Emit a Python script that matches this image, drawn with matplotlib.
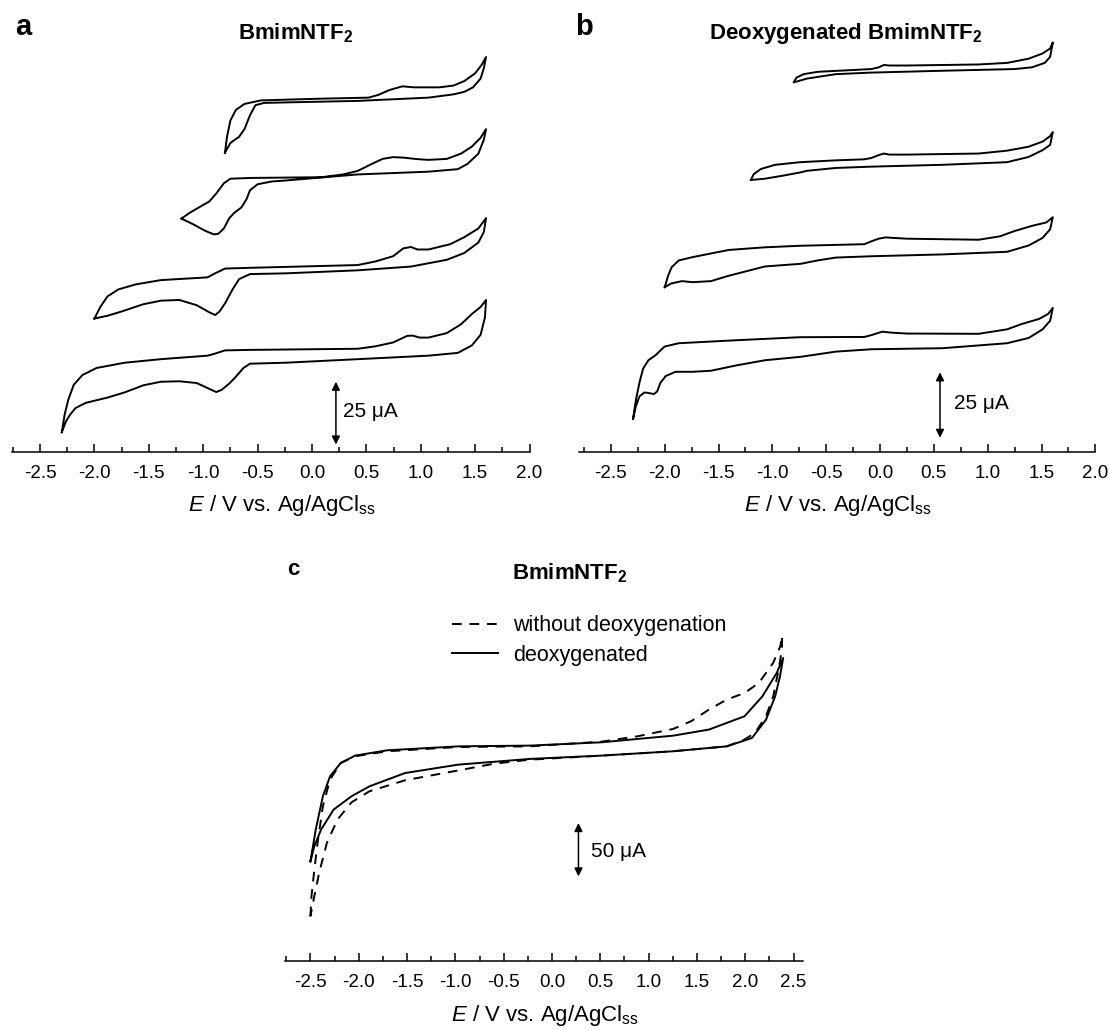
import matplotlib
matplotlib.use("Agg")
import matplotlib.pyplot as plt
from matplotlib.ticker import MultipleLocator, FormatStrFormatter

plt.rcParams["font.family"] = ["Liberation Sans", "DejaVu Sans"]
plt.rcParams["mathtext.fontset"] = "custom"
plt.rcParams["mathtext.rm"] = "Liberation Sans"
plt.rcParams["mathtext.it"] = "Liberation Sans:italic"
plt.rcParams["mathtext.bf"] = "Liberation Sans:bold"
plt.rcParams["axes.unicode_minus"] = False

# ---- panel a: BmimNTF2, four switching potentials (E in V, stacked current in uA)
a1_E = [-0.80, -0.78, -0.75, -0.70, -0.62, -0.47, 0.09, 0.52, 0.61, 0.71, 0.83, 0.94, 1.17, 1.30, 1.40, 1.50, 1.56, 1.60,
        1.58, 1.55, 1.48, 1.40, 1.30, 1.07, 0.42, -0.24, -0.44, -0.52, -0.57, -0.62, -0.67, -0.72, -0.75, -0.80]
a1_I = [119.4, 126.0, 132.2, 136.4, 138.8, 140.2, 140.9, 141.3, 142.4, 144.3, 145.8, 145.4, 145.4, 146.1, 147.9, 151.0, 154.4, 157.5,
        153.1, 148.9, 145.4, 143.6, 142.6, 141.3, 140.0, 139.4, 139.2, 138.3, 134.3, 128.8, 125.7, 124.2, 123.2, 119.4]

a2_E = [-1.20, -1.125, -1.03, -0.945, -0.88, -0.81, -0.75, -0.57, 0.09, 0.285, 0.42, 0.55, 0.65, 0.745, 0.84, 0.97, 1.07, 1.24,
        1.37, 1.47, 1.55, 1.60, 1.58, 1.53, 1.43, 1.34, 1.07, 0.42, -0.24, -0.37, -0.50, -0.57, -0.60, -0.65, -0.715, -0.76,
        -0.81, -0.86, -0.90, -0.98, -1.09, -1.20]
a2_I = [93.1, 95.4, 97.8, 99.9, 103.1, 107.2, 109.0, 109.3, 109.6, 110.7, 112.1, 114.9, 116.9, 117.6, 117.4, 116.8, 116.5, 116.9,
        119.0, 121.8, 125.3, 128.75, 124.6, 119.0, 114.9, 112.8, 111.8, 110.7, 108.3, 107.9, 106.8, 104.4, 101.0, 97.5, 95.4, 93.3,
        89.2, 87.1, 86.8, 88.2, 90.8, 93.1]

a3_E = [-2.00, -1.946, -1.88, -1.78, -1.62, -1.39, -0.96, -0.90, -0.80, -0.57, 0.42, 0.58, 0.745, 0.84, 0.91, 0.97, 1.07, 1.27,
        1.40, 1.53, 1.60, 1.58, 1.53, 1.40, 1.24, 0.91, 0.42, -0.24, -0.57, -0.67, -0.73, -0.80, -0.85, -0.89, -0.945, -1.06,
        -1.22, -1.39, -1.55, -1.75, -1.88, -2.00]
a3_I = [53.3, 57.9, 62.1, 64.9, 66.9, 68.6, 69.7, 71.1, 73.2, 73.5, 74.6, 76.0, 78.1, 81.25, 81.8, 80.8, 80.8, 82.9,
        85.7, 89.2, 93.3, 87.8, 83.6, 79.4, 76.7, 74.0, 72.5, 71.3, 71.0, 69.0, 64.9, 59.3, 56.1, 54.7, 55.8, 58.6,
        60.7, 60.4, 59.0, 56.1, 54.4, 53.3]

a4_E = [-2.30, -2.274, -2.24, -2.19, -2.11, -1.98, -1.72, -1.39, -0.96, -0.90, -0.80, -0.57, 0.42, 0.58, 0.745, 0.876, 0.925,
        0.99, 1.07, 1.24, 1.37, 1.47, 1.55, 1.60, 1.59, 1.55, 1.47, 1.34, 1.07, 0.42, -0.24, -0.57, -0.63, -0.70, -0.76, -0.83,
        -0.88, -0.945, -1.06, -1.22, -1.39, -1.55, -1.72, -1.88, -2.08, -2.175, -2.22, -2.26, -2.30]
a4_I = [8.0, 15.0, 21.0, 26.9, 30.8, 33.6, 35.7, 37.1, 38.5, 39.2, 40.6, 40.8, 41.25, 42.2, 43.75, 46.4, 46.5,
        45.7, 45.7, 47.5, 51.0, 55.1, 57.9, 60.7, 53.75, 46.8, 42.6, 39.6, 38.5, 37.1, 35.7, 35.3, 33.6, 30.1, 27.4, 24.9,
        24.0, 25.3, 27.6, 28.3, 28.1, 26.7, 23.9, 21.8, 19.7, 17.6, 15.2, 12.5, 8.0]

# ---- panel b: deoxygenated BmimNTF2
b1_E = [-0.80, -0.776, -0.71, -0.577, -0.245, -0.08, -0.013, 0.036, 0.086, 0.25, 0.915, 1.18, 1.38, 1.51, 1.58, 1.605,
        1.58, 1.53, 1.41, 1.25, 0.58, -0.08, -0.41, -0.68, -0.78, -0.80]
b1_I = [141.05, 142.8, 144.1, 145.0, 145.7, 146.05, 146.7, 147.6, 147.4, 147.4, 147.8, 148.4, 150.0, 152.0, 153.9, 156.2,
        150.7, 148.4, 146.7, 146.05, 145.4, 144.7, 144.1, 142.4, 141.2, 141.05]

b2_E = [-1.20, -1.174, -1.107, -0.975, -0.743, -0.411, -0.146, -0.08, -0.013, 0.036, 0.086, 0.252, 0.915, 1.18, 1.379, 1.512,
        1.578, 1.605, 1.58, 1.51, 1.38, 1.18, 0.58, -0.08, -0.41, -0.68, -0.74, -0.91, -1.07, -1.20]
b2_I = [103.7, 105.9, 107.9, 109.5, 110.5, 111.2, 111.6, 112.1, 113.2, 113.8, 113.4, 113.4, 113.8, 114.9, 116.4, 118.4,
        120.4, 122.0, 117.1, 115.1, 112.5, 110.5, 109.5, 108.8, 108.3, 107.2, 106.6, 105.3, 104.2, 103.7]

b3_E = [-2.00, -1.969, -1.936, -1.87, -1.737, -1.406, -1.074, -0.743, -0.146, -0.08, -0.013, 0.053, 0.119, 0.252, 0.915,
        1.114, 1.247, 1.412, 1.545, 1.605, 1.58, 1.51, 1.38, 1.18, 0.58, -0.08, -0.41, -0.58, -0.74, -1.07, -1.41, -1.57,
        -1.74, -1.84, -1.94, -2.00]
b3_I = [62.8, 67.1, 70.4, 73.0, 74.3, 77.0, 78.0, 78.6, 79.2, 80.3, 81.3, 81.8, 81.6, 81.3, 80.9,
        82.2, 84.2, 86.2, 87.5, 89.5, 84.9, 81.6, 78.7, 76.3, 75.3, 74.6, 74.1, 73.0, 71.7, 70.7, 67.1, 65.1,
        64.7, 65.1, 64.2, 62.8]

b4_E = [-2.294, -2.268, -2.235, -2.202, -2.152, -2.086, -2.003, -1.87, -1.406, -0.743, -0.146, -0.08, 0.02, 0.119, 0.252,
        0.915, 1.18, 1.313, 1.479, 1.562, 1.605, 1.58, 1.51, 1.38, 1.18, 0.58, -0.08, -0.41, -0.74, -1.07, -1.34, -1.57,
        -1.74, -1.90, -1.99, -2.04, -2.07, -2.10, -2.15, -2.19, -2.235, -2.27, -2.294]
b4_I = [12.5, 19.7, 26.3, 31.6, 34.9, 36.8, 40.1, 41.4, 42.4, 43.7, 43.8, 44.5, 45.8, 45.4, 45.1,
        45.0, 46.7, 48.7, 50.7, 52.6, 54.9, 50.0, 46.7, 43.4, 41.4, 39.5, 39.1, 38.2, 36.2, 34.9, 32.9, 30.9,
        30.5, 30.5, 28.9, 26.3, 23.0, 22.0, 22.4, 22.6, 21.1, 17.1, 12.5]

# ---- panel c: with / without deoxygenation
c_deox_E = [-2.50, -2.445, -2.371, -2.297, -2.186, -2.038, -1.705, -0.965, -0.226, 0.514, 1.254, 1.624, 1.993, 2.178, 2.326,
            2.393, 2.36, 2.31, 2.215, 2.07, 1.81, 1.25, 0.51, -0.23, -0.97, -1.52, -1.89, -2.075, -2.26, -2.39, -2.46, -2.50]
c_deox_I = [93.1, 122.8, 154.1, 172.8, 185.3, 192.2, 197.2, 200.9, 201.6, 204.7, 210.9, 216.6, 229.1, 247.8, 269.7,
            283.75, 266.6, 247.8, 225.9, 208.75, 200.9, 196.25, 192.2, 189.1, 183.75, 175.9, 163.4, 154.1, 141.6, 122.8, 107.2, 93.1]

c_air_E = [-2.50, -2.489, -2.463, -2.426, -2.371, -2.297, -2.186, -2.038, -1.705, -0.965, -0.226, 0.514, 0.884, 1.254, 1.439,
           1.624, 1.808, 1.993, 2.141, 2.289, 2.363, 2.382, 2.38, 2.345, 2.29, 2.215, 2.10, 1.99, 1.81, 1.25, 0.51, -0.23,
           -0.595, -0.965, -1.52, -1.89, -2.075, -2.22, -2.33, -2.41, -2.46, -2.50]
c_air_I = [41.6, 60.3, 82.2, 110.3, 144.7, 169.7, 185.3, 191.6, 196.25, 200.3, 200.9, 205.3, 210.3, 217.2, 224.4,
           235.3, 244.7, 250.9, 260.3, 279.1, 294.7, 304.7, 291.6, 272.8, 247.8, 229.1, 213.4, 207.2, 200.9, 196.25, 192.2, 188.4,
           184.7, 178.4, 169.1, 158.75, 148.4, 132.2, 110.3, 82.2, 60.3, 41.6]

legend_labels = ["without deoxygenation", "deoxygenated"]
scale_a = 25   # uA
scale_c = 50   # uA

W, H = 1110, 1030
fig = plt.figure(figsize=(W / 100, H / 100), dpi=100)


def px_axes(x0, x1, y_top, y_axis):
    # axes placed by pixel edges of the reference picture
    return fig.add_axes([x0 / W, 1 - y_axis / H, (x1 - x0) / W, (y_axis - y_top) / H])


def ftext(x, y, s, **kw):
    fig.text(x / W, 1 - y / H, s, **kw)


def style(ax, xlim, ytop):
    ax.set_xlim(*xlim)
    ax.set_ylim(0, ytop)
    for s in ["left", "right", "top"]:
        ax.spines[s].set_visible(False)
    ax.spines["bottom"].set_linewidth(1.1)
    ax.yaxis.set_visible(False)
    ax.patch.set_alpha(0)
    ax.xaxis.set_major_locator(MultipleLocator(0.5))
    ax.xaxis.set_minor_locator(MultipleLocator(0.25))
    ax.xaxis.set_major_formatter(FormatStrFormatter("%.1f"))
    ax.tick_params(axis="x", which="major", direction="in", length=6, width=1.1, pad=9.5, labelsize=13.5)
    ax.tick_params(axis="x", which="minor", direction="in", length=3.5, width=1.1)


def scale_bar(ax, x, y0, y1, label, lx, ly):
    ax.annotate("", xy=(x, y1), xytext=(x, y0),
                arrowprops=dict(arrowstyle="<|-|>", color="k", lw=1.1, mutation_scale=12, shrinkA=0, shrinkB=0))
    ax.text(lx, ly, label, fontsize=15, ha="left", va="center")


lw = 1.4
xlabel = r"$\mathit{E}$ / V vs. Ag/AgCl$_{\mathrm{ss}}$"
title = r"BmimNTF$_{\mathbf{2}}$"

# panel a
ax_a = px_axes(12.3, 529.6, 10, 452.3)
style(ax_a, (-2.755, 2.0005), 442.3 / 2.51)
for E, I in [(a1_E, a1_I), (a2_E, a2_I), (a3_E, a3_I), (a4_E, a4_I)]:
    ax_a.plot(E, I, color="k", lw=lw, solid_joinstyle="round")
scale_bar(ax_a, 0.22, 3.1, 3.1 + scale_a, "25 \u03bcA", 0.285, 16.2)

# panel b
ax_b = px_axes(578.6, 1095.4, 10, 451.7)
style(ax_b, (-2.80, 2.0005), 441.7 / 2.62)
for E, I in [(b1_E, b1_I), (b2_E, b2_I), (b3_E, b3_I), (b4_E, b4_I)]:
    ax_b.plot(E, I, color="k", lw=lw, solid_joinstyle="round")
scale_bar(ax_b, 0.557, 5.3, 5.3 + scale_a, "25 \u03bcA", 0.69, 18.4)

# panel c
ax_c = px_axes(285, 803.2, 600, 960.7)
style(ax_c, (-2.763, 2.60), 360.7 / 1.067)
l_air, = ax_c.plot(c_air_E, c_air_I, color="k", lw=lw, linestyle=(0, (5, 4)), label=legend_labels[0])
l_deox, = ax_c.plot(c_deox_E, c_deox_I, color="k", lw=lw, solid_joinstyle="round", label=legend_labels[1])
scale_bar(ax_c, 0.274, 79, 79 + scale_c, "50 \u03bcA", 0.403, 102.5)
ax_c.legend(handles=[l_air, l_deox], loc="upper left", bbox_to_anchor=(452 / W, 1 - 615.5 / H),
            bbox_transform=fig.transFigure, frameon=False, fontsize=15.5, handlelength=2.14,
            handletextpad=0.7, labelspacing=0.38, borderpad=0, borderaxespad=0)

# titles, panel letters, axis labels
ftext(15, 35, "a", fontsize=21, fontweight="bold", va="baseline")
ftext(238.3, 39.3, title, fontsize=16, fontweight="bold", va="baseline")
ftext(575, 35, "b", fontsize=21, fontweight="bold", va="baseline")
ftext(709, 39.3, "Deoxygenated " + title, fontsize=16, fontweight="bold", va="baseline")
ftext(287, 575, "c", fontsize=16, fontweight="bold", va="baseline")
ftext(511.7, 579.3, title, fontsize=16, fontweight="bold", va="baseline")

ftext(282, 511, xlabel, fontsize=16, ha="center", va="baseline")
ftext(837.6, 511, xlabel, fontsize=16, ha="center", va="baseline")
ftext(545, 1021.5, xlabel, fontsize=16, ha="center", va="baseline")

fig.savefig("out.png", dpi=100)
